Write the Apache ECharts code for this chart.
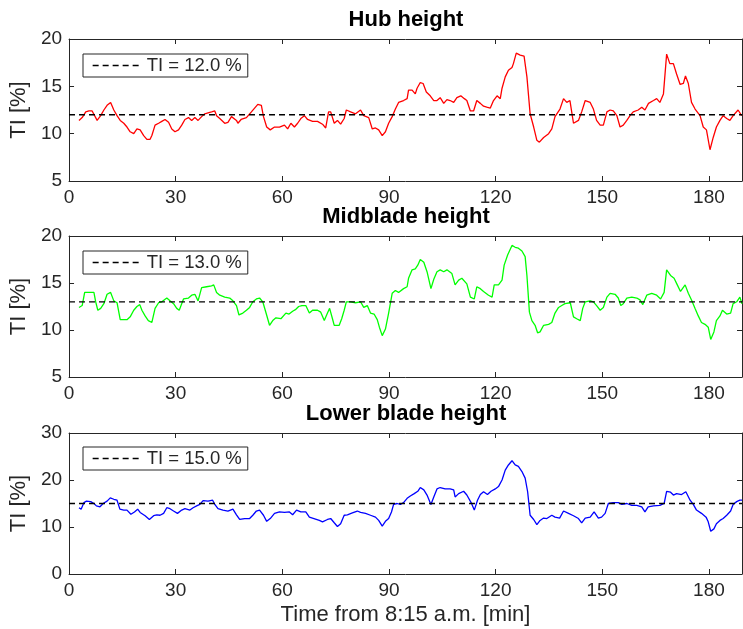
<!DOCTYPE html>
<html>
<head>
<meta charset="utf-8">
<script src="https://cdn.jsdelivr.net/npm/echarts@6/dist/echarts.min.js"></script>
<style>
  html, body { margin: 0; padding: 0; background: #fff; }
  #chart { width: 743px; height: 629px; }
</style>
</head>
<body>
<div id="chart"></div>
<script>
// ---------- DATA ----------
const panelTitles = ['Hub height', 'Midblade height', 'Lower blade height'];
const thresholds = [12, 13, 15];
const yMins = [5, 5, 0];
const yMaxs = [20, 20, 30];
const yIntervals = [5, 5, 10];
const xMin = 0, xMax = 189.3, xInterval = 30;
const xTitle = 'Time from 8:15 a.m. [min]';
const yTitle = 'TI [%]';

const hubT = [2.8,3.7,4.7,5.6,6.5,7.0,7.9,8.9,9.8,10.7,11.7,12.1,12.6,13.5,14.4,15.4,16.3,17.2,18.2,19.1,19.6,20.0,21.0,21.9,22.8,23.3,24.2,25.2,26.1,27.0,28.0,28.9,29.8,30.8,31.7,32.6,33.6,34.5,35.4,36.3,37.3,38.2,39.1,40.1,41.0,41.5,42.4,43.8,44.7,45.7,46.1,47.1,47.5,48.4,49.9,51.3,52.2,53.1,54.1,54.7,55.6,56.6,57.8,59.2,60.6,61.5,62.4,63.4,64.3,65.2,66.2,67.1,68.5,69.9,71.3,72.2,73.0,73.6,74.6,75.5,76.4,77.4,78.0,79.2,80.6,82.0,82.9,84.3,85.3,86.2,87.1,88.1,89.0,89.9,90.9,91.8,92.7,93.2,94.1,95.1,95.5,96.5,97.4,97.9,98.8,99.6,100.5,101.6,102.6,103.5,104.4,105.4,106.3,107.2,108.2,109.1,110.2,111.2,111.9,112.9,113.8,114.7,115.7,116.6,117.5,118.5,119.4,120.4,121.3,121.8,122.7,123.6,124.6,125.0,125.8,126.9,128.0,128.8,129.7,130.7,131.6,132.3,133.5,134.9,135.8,136.7,138.1,139.1,140.0,140.9,141.9,143.3,144.2,145.2,146.6,147.5,148.4,149.4,150.3,151.3,152.2,153.1,154.1,155.0,155.9,156.9,157.8,158.7,160.1,161.1,162.0,163.0,164.4,165.3,166.2,167.2,168.1,169.0,170.0,170.9,171.9,172.8,173.4,174.2,175.1,176.1,177.5,178.4,179.3,180.3,181.2,182.1,183.1,184.0,185.0,185.9,186.8,188.2,189.2];
const hubV = [11.4,11.7,12.3,12.4,12.4,12.2,11.4,11.9,12.5,13.0,13.3,13.2,12.5,11.9,11.4,11.1,10.7,10.2,10.0,10.5,10.7,10.4,9.8,9.4,9.4,9.8,10.9,11.1,11.3,11.5,11.2,10.5,10.2,10.4,10.9,11.5,11.7,11.4,11.7,11.4,11.8,12.1,12.2,12.3,12.4,11.9,11.6,11.1,11.2,11.8,11.9,11.4,11.1,11.5,11.7,12.3,12.7,13.1,13.0,11.8,10.7,10.4,10.7,10.7,10.9,10.5,11.1,10.7,11.1,11.6,11.9,11.5,11.3,11.3,11.0,10.6,12.3,12.3,11.1,11.4,11.0,11.6,12.5,12.3,12.1,12.5,11.9,11.7,10.5,10.6,10.4,9.8,10.2,11.1,11.8,12.6,13.3,13.3,13.5,13.7,14.6,14.6,14.2,14.8,15.4,15.3,14.4,14.0,13.5,13.5,13.8,13.2,13.6,13.5,13.3,13.8,14.0,13.7,13.5,12.4,12.4,13.5,13.2,12.9,12.8,12.7,13.5,14.0,13.7,14.8,16.0,16.7,17.0,17.4,18.5,18.3,18.2,16.0,12.1,10.7,9.3,9.1,9.6,10.0,10.5,11.8,12.6,13.7,13.3,13.5,11.1,11.4,12.3,13.5,13.3,12.6,11.4,10.9,10.9,12.3,12.5,12.4,11.9,10.7,10.9,11.4,11.9,12.3,12.5,12.8,12.5,13.2,13.5,13.7,13.3,14.2,18.4,17.4,17.4,16.3,15.2,15.3,16.1,15.3,13.3,12.6,11.9,10.7,10.4,8.3,9.6,10.7,11.4,11.9,11.6,11.4,11.9,12.5,11.9];

const midT = [2.8,3.7,4.4,5.6,7.0,7.5,8.1,8.9,9.8,10.7,11.7,12.6,13.5,14.4,15.4,16.3,17.2,18.2,19.1,19.9,20.5,21.4,22.3,23.3,24.2,25.2,26.1,27.5,28.4,29.4,30.3,31.0,32.2,33.6,34.5,35.4,36.3,37.3,38.7,40.1,40.7,41.5,42.4,43.8,45.2,46.1,47.1,47.8,48.9,49.9,50.8,51.7,52.7,53.6,54.5,55.5,56.4,57.3,58.2,59.6,61.0,61.9,62.9,63.8,64.6,65.5,66.6,67.6,68.5,69.9,70.8,71.8,72.7,73.3,74.1,74.6,76.0,76.7,77.4,78.0,79.2,80.6,82.0,82.9,83.9,84.8,85.8,86.7,87.3,88.1,89.0,89.9,90.9,91.8,92.7,93.2,94.1,95.1,95.5,96.5,97.4,98.1,98.8,99.8,100.7,101.8,102.6,103.5,104.4,105.4,106.3,107.7,108.6,109.6,110.5,111.9,112.9,114.0,114.7,115.7,116.6,118.0,119.0,119.6,120.8,121.8,122.4,123.4,124.6,125.5,126.4,127.4,128.3,128.8,129.5,130.2,131.1,131.8,132.5,133.5,134.9,135.8,136.7,137.7,138.6,139.5,141.0,141.9,142.8,143.8,144.5,145.2,146.6,147.5,148.4,149.4,150.3,151.3,152.2,153.6,154.5,155.2,155.9,156.9,158.3,159.7,160.6,161.4,162.5,163.9,165.3,166.4,167.4,168.1,169.2,170.2,171.1,172.0,173.3,174.2,175.1,176.1,177.0,177.9,178.9,179.8,180.5,181.4,182.1,183.1,183.8,185.0,186.1,186.8,187.8,188.7,189.3];
const midV = [12.4,12.6,14.0,14.0,14.0,13.0,12.1,12.3,12.8,13.8,14.0,13.1,12.9,11.1,11.1,11.1,11.4,12.1,12.5,12.7,12.1,11.5,11.0,10.8,12.3,12.9,13.0,13.4,13.1,12.8,12.3,12.1,13.3,13.4,13.7,13.8,13.1,14.5,14.6,14.7,14.8,14.0,13.7,13.5,13.4,13.1,12.6,11.6,11.8,12.1,12.4,13.0,13.3,13.4,13.0,11.7,10.5,11.0,11.3,11.2,11.8,11.7,12.0,12.2,12.5,12.6,12.6,11.8,12.1,12.1,11.9,11.0,11.8,12.3,11.2,10.5,10.5,11.2,12.1,13.0,13.0,12.9,13.0,12.4,12.6,11.8,11.7,11.1,10.3,9.4,10.1,11.8,13.9,14.2,14.0,13.9,14.4,14.6,15.5,16.4,16.5,16.9,17.5,17.2,16.2,14.4,15.4,16.2,16.4,16.2,16.4,16.0,14.8,15.3,15.5,14.9,13.5,13.3,14.6,14.4,14.1,13.7,13.5,14.8,14.8,15.3,16.9,18.0,19.0,18.8,18.7,18.4,17.8,15.8,11.9,11.0,10.5,9.7,9.8,10.5,10.6,10.8,11.8,12.4,12.6,12.8,12.9,11.4,11.2,11.0,12.3,13.0,13.1,13.0,12.6,12.1,12.4,13.5,13.9,13.8,13.4,12.6,12.8,13.4,13.5,13.4,13.2,12.7,13.7,13.9,13.7,13.3,14.0,16.4,15.8,15.5,14.8,14.1,14.8,13.9,13.2,12.3,11.5,10.8,10.6,10.3,9.0,9.8,11.0,11.5,12.1,11.7,11.8,12.8,13.0,13.5,12.8];

const lowT = [2.8,3.4,4.2,4.9,6.1,7.0,7.7,8.7,9.6,10.7,11.6,12.6,13.5,14.3,15.4,16.3,17.4,18.4,19.3,20.0,21.4,22.6,23.8,24.7,25.6,26.6,27.5,28.4,29.4,30.5,31.7,32.6,34.0,34.9,35.9,36.8,37.7,39.1,40.4,41.0,41.9,43.3,44.7,46.1,47.1,48.0,49.4,50.8,51.7,52.7,53.6,54.7,55.6,56.6,57.8,59.2,60.6,62.0,62.9,64.0,65.2,66.6,67.6,68.9,70.4,71.3,72.7,73.6,74.6,75.5,76.4,77.4,78.3,79.7,81.1,82.0,83.4,84.8,86.2,87.1,88.1,89.0,89.9,90.7,91.3,92.3,93.2,94.1,95.1,96.0,97.1,98.1,98.8,99.8,100.7,101.8,102.6,103.5,104.4,105.8,107.2,108.2,108.6,109.6,111.0,111.9,113.1,114.0,114.9,115.7,116.6,117.7,118.7,119.9,120.8,121.8,122.7,123.6,124.6,125.5,126.4,127.4,128.3,129.0,129.7,130.7,131.6,132.5,133.5,134.4,135.8,136.7,138.0,139.1,140.5,141.9,143.3,144.2,145.2,146.6,147.7,148.9,149.8,150.8,151.7,153.1,154.5,155.5,156.9,158.3,159.7,161.1,162.0,162.9,164.4,166.2,167.4,168.1,169.2,170.0,170.9,172.3,173.5,174.7,175.6,176.5,177.9,179.2,179.8,180.5,181.4,182.1,183.1,184.0,185.0,186.1,186.8,187.8,188.7,189.3];
const lowV = [14.1,13.8,15.2,15.5,15.4,15.0,14.5,14.3,15.0,15.5,16.2,15.9,15.7,13.8,13.6,13.6,12.7,13.2,13.8,13.1,12.4,11.6,12.4,12.6,12.5,12.9,14.1,13.9,13.4,12.9,13.6,13.9,13.6,14.1,14.5,14.8,15.6,15.5,15.7,14.8,13.9,13.6,13.4,13.8,12.6,11.6,11.8,11.8,12.5,13.4,13.6,12.5,11.2,11.8,12.9,13.2,13.1,13.2,12.6,13.6,13.2,13.2,12.1,11.8,11.4,11.1,11.6,11.8,10.9,10.1,10.7,12.5,12.6,13.0,13.4,13.1,12.9,12.5,12.1,11.4,10.2,11.2,11.8,13.2,14.8,15.0,14.8,15.2,16.1,16.6,17.1,17.6,18.4,17.9,16.8,14.8,16.4,18.1,18.4,18.1,18.1,17.9,16.4,17.1,17.6,16.8,15.2,13.6,15.7,16.9,17.5,16.9,17.6,18.1,18.6,20.0,22.1,23.2,24.1,23.2,22.9,21.8,20.4,17.5,12.5,11.6,10.5,11.4,11.9,11.8,12.5,12.1,11.9,13.4,12.9,12.4,11.8,10.9,11.9,12.1,13.2,11.9,12.1,12.9,15.0,15.2,15.2,14.8,15.0,14.6,14.6,14.3,13.2,14.3,14.5,14.6,15.0,17.6,17.4,16.8,17.1,16.9,17.5,15.7,14.8,13.6,12.9,12.1,11.1,9.1,9.6,10.7,11.4,11.8,12.5,13.4,14.8,15.4,15.7,15.7];

const seriesT = [hubT, midT, lowT];
const seriesV = [hubV, midV, lowV];
const seriesColors = ['#ff0000', '#00ff00', '#0000ff'];

// ---------- LAYOUT ----------
const FONT = '"Liberation Sans", Arial, Helvetica, sans-serif';
const AX = '#262626';
const plotLeft = 68, plotWidth = 674;
const plotTops = [39, 236, 433];
const plotHeights = [142, 141, 141];
const legendTops = [54, 251, 447];

const chart = echarts.init(document.getElementById('chart'), null, { renderer: 'canvas' });

const grid = [], xAxis = [], yAxis = [], series = [], legend = [], title = [];
for (let i = 0; i < 3; i++) {
  grid.push({ left: plotLeft, top: plotTops[i], width: plotWidth, height: plotHeights[i], containLabel: false });
  const common = { type: 'value', gridIndex: i, splitLine: { show: false } };
  xAxis.push(Object.assign({}, common, {
    position: 'bottom', min: xMin, max: xMax, interval: xInterval,
    axisLine: { onZero: false, lineStyle: { color: AX, width: 1 } },
    axisTick: { inside: true, length: 5, lineStyle: { color: AX } },
    axisLabel: { color: AX, fontSize: 19, fontFamily: FONT, margin: 7, showMaxLabel: false },
    name: i === 2 ? xTitle : '', nameLocation: 'middle', nameGap: 30,
    nameTextStyle: { color: AX, fontSize: 22, fontFamily: FONT }
  }));
  xAxis.push(Object.assign({}, common, {
    position: 'top', min: xMin, max: xMax, interval: xInterval,
    axisLine: { onZero: false, lineStyle: { color: AX, width: 1 } },
    axisTick: { inside: true, length: 5, lineStyle: { color: AX } },
    axisLabel: { show: false }
  }));
  yAxis.push(Object.assign({}, common, {
    position: 'left', min: yMins[i], max: yMaxs[i], interval: yIntervals[i],
    axisLine: { show: true, onZero: false, lineStyle: { color: AX, width: 1 } },
    axisTick: { show: true, inside: true, length: 5, lineStyle: { color: AX } },
    axisLabel: { color: AX, fontSize: 19, fontFamily: FONT, margin: 7 },
    name: yTitle, nameLocation: 'middle', nameGap: 31,
    nameTextStyle: { color: AX, fontSize: 22, fontFamily: FONT }
  }));
  yAxis.push(Object.assign({}, common, {
    position: 'right', min: yMins[i], max: yMaxs[i], interval: yIntervals[i],
    axisLine: { show: true, onZero: false, lineStyle: { color: AX, width: 1 } },
    axisTick: { show: true, inside: true, length: 5, lineStyle: { color: AX } },
    axisLabel: { show: false }
  }));

  const data = seriesT[i].map((t, k) => [t, seriesV[i][k]]);
  series.push({
    type: 'line', name: panelTitles[i], xAxisIndex: 2 * i, yAxisIndex: 2 * i,
    data: data, symbol: 'none', smooth: false, silent: true,
    lineStyle: { color: seriesColors[i], width: 1.3 }, z: 2
  });
  const thrName = 'TI = ' + thresholds[i].toFixed(1) + ' %';
  series.push({
    type: 'line', name: thrName, xAxisIndex: 2 * i, yAxisIndex: 2 * i,
    data: [[xMin, thresholds[i]], [xMax, thresholds[i]]], symbol: 'none', silent: true,
    itemStyle: { color: '#000' },
    lineStyle: { color: '#000', width: 1.3, type: [6, 4] }, z: 3
  });
  legend.push({
    data: [thrName], left: 83, top: legendTops[i], orient: 'horizontal',
    backgroundColor: '#fff', borderColor: AX, borderWidth: 1, borderRadius: 0,
    padding: [2, 6, 2, 9], itemWidth: 47, itemHeight: 14, itemGap: 0,
    selectedMode: false,
    itemStyle: { opacity: 0 },
    lineStyle: { color: '#000', type: [6, 4], width: 1.3 },
    textStyle: { color: AX, fontSize: 18.5, fontFamily: FONT, padding: [0, 0, 0, 2] }
  });
  title.push({
    text: panelTitles[i], left: 401, textAlign: 'center', top: plotTops[i] - 35,
    textStyle: { color: '#000', fontSize: 22, fontWeight: 'bold', fontFamily: FONT }
  });
}

chart.setOption({
  animation: false,
  backgroundColor: '#fff',
  title, grid, xAxis, yAxis, series, legend
});
</script>
</body>
</html>
